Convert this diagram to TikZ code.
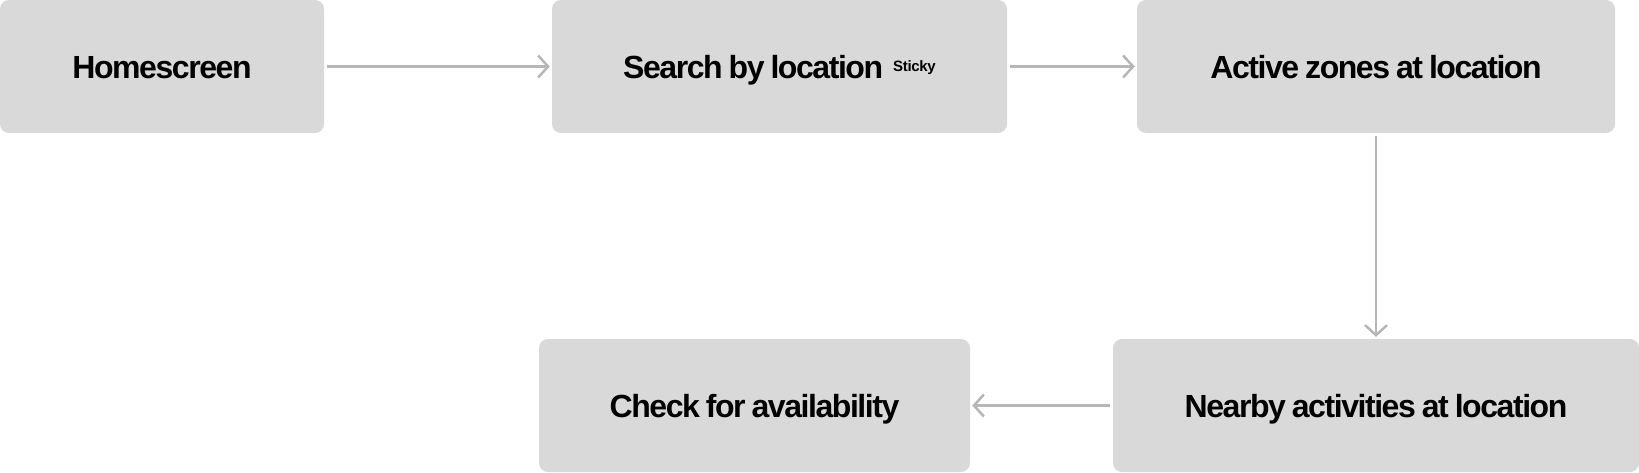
\documentclass[tikz,border=0pt]{standalone}
\usepackage{fontspec}
\setmainfont{Liberation Sans}[BoldFont={* Bold}]
\newfontfamily\boxfont{Liberation Sans Bold}[LetterSpace=-4.5,WordSpace=0.8]
\newfontfamily\tagfont{Liberation Sans Bold}[LetterSpace=-2]
\usetikzlibrary{arrows.meta}
\definecolor{boxgray}{HTML}{D9D9D9}
\definecolor{arrowgray}{HTML}{B6B6B6}
\tikzset{
  stepbox/.style={rectangle, rounded corners=9pt, fill=boxgray, draw=none,
    minimum height=133pt, inner sep=0pt, text height=23pt, text depth=0pt,
    font=\boxfont\fontsize{32}{36}\selectfont, text=black},
  flow/.style={draw=arrowgray, line width=2.5pt,
    -{Straight Barb[length=10pt,width=22pt,line width=2.5pt]},
    shorten <=3pt, shorten >=2pt}
}
\begin{document}
\begin{tikzpicture}[x=1pt,y=1pt]
\useasboundingbox (0,0) rectangle (1639,-472);
\node[stepbox, minimum width=324pt] (home) at (162,-66.5) {Homescreen};
\node[stepbox, minimum width=455pt] (search) at (779.5,-66.5)
  {Search by location\hspace{10pt}\raisebox{6.5pt}{\tagfont\fontsize{15}{18}\selectfont Sticky}};
\node[stepbox, minimum width=478pt] (active) at (1376,-66.5) {Active zones at location};
\node[stepbox, minimum width=526pt] (nearby) at (1376,-405.5) {Nearby activities at location};
\node[stepbox, minimum width=431pt] (check) at (754.5,-405.5) {Check for availability};
\draw[flow] (home.east) -- (search.west);
\draw[flow] (search.east) -- (active.west);
\draw[flow] (active.south) -- (nearby.north);
\draw[flow] (nearby.west) -- (check.east);
\end{tikzpicture}
\end{document}
